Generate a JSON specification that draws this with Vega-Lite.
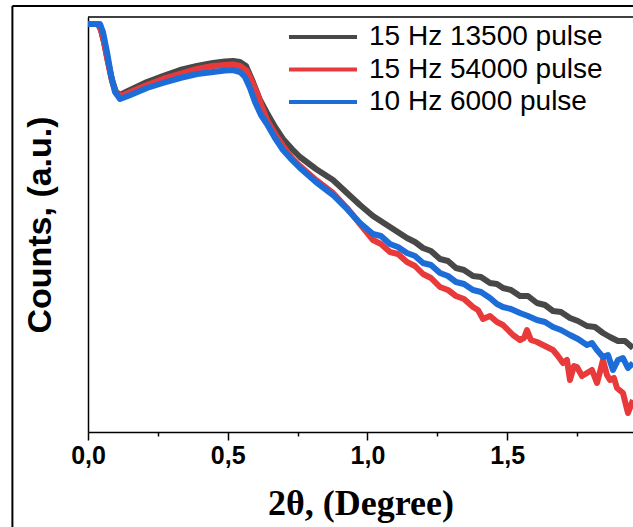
{
  "$schema": "https://vega.github.io/schema/vega-lite/v6.json",
  "width": 545,
  "height": 415,
  "autosize": {"type": "none"},
  "padding": {"left": 88, "top": 17, "right": 0, "bottom": 95},
  "background": "white",
  "config": {"view": {"stroke": null}, "font": "Liberation Sans"},
  "datasets": {
    "frame": [{"frame": "border"}],
    "curves": [
      {"series": "15 Hz 13500 pulse", "theta": 0, "counts": 408},
      {"series": "15 Hz 13500 pulse", "theta": 0.0358, "counts": 408},
      {"series": "15 Hz 13500 pulse", "theta": 0.0465, "counts": 402},
      {"series": "15 Hz 13500 pulse", "theta": 0.0572, "counts": 390},
      {"series": "15 Hz 13500 pulse", "theta": 0.0716, "counts": 370},
      {"series": "15 Hz 13500 pulse", "theta": 0.0859, "counts": 352},
      {"series": "15 Hz 13500 pulse", "theta": 0.1002, "counts": 340},
      {"series": "15 Hz 13500 pulse", "theta": 0.1145, "counts": 337},
      {"series": "15 Hz 13500 pulse", "theta": 0.1431, "counts": 341},
      {"series": "15 Hz 13500 pulse", "theta": 0.2111, "counts": 350},
      {"series": "15 Hz 13500 pulse", "theta": 0.2683, "counts": 356},
      {"series": "15 Hz 13500 pulse", "theta": 0.3292, "counts": 362},
      {"series": "15 Hz 13500 pulse", "theta": 0.39, "counts": 366},
      {"series": "15 Hz 13500 pulse", "theta": 0.4472, "counts": 369},
      {"series": "15 Hz 13500 pulse", "theta": 0.4902, "counts": 370.5},
      {"series": "15 Hz 13500 pulse", "theta": 0.5188, "counts": 371},
      {"series": "15 Hz 13500 pulse", "theta": 0.5438, "counts": 370},
      {"series": "15 Hz 13500 pulse", "theta": 0.5653, "counts": 366},
      {"series": "15 Hz 13500 pulse", "theta": 0.5903, "counts": 350},
      {"series": "15 Hz 13500 pulse", "theta": 0.6154, "counts": 332},
      {"series": "15 Hz 13500 pulse", "theta": 0.6404, "counts": 319},
      {"series": "15 Hz 13500 pulse", "theta": 0.6691, "counts": 305},
      {"series": "15 Hz 13500 pulse", "theta": 0.6977, "counts": 293},
      {"series": "15 Hz 13500 pulse", "theta": 0.7299, "counts": 283},
      {"series": "15 Hz 13500 pulse", "theta": 0.7585, "counts": 275},
      {"series": "15 Hz 13500 pulse", "theta": 0.8157, "counts": 263},
      {"series": "15 Hz 13500 pulse", "theta": 0.8766, "counts": 252},
      {"series": "15 Hz 13500 pulse", "theta": 0.9267, "counts": 239},
      {"series": "15 Hz 13500 pulse", "theta": 0.9732, "counts": 227},
      {"series": "15 Hz 13500 pulse", "theta": 1.0197, "counts": 216},
      {"series": "15 Hz 13500 pulse", "theta": 1.0805, "counts": 205},
      {"series": "15 Hz 13500 pulse", "theta": 1.1413, "counts": 194},
      {"series": "15 Hz 13500 pulse", "theta": 1.17, "counts": 190},
      {"series": "15 Hz 13500 pulse", "theta": 1.1986, "counts": 184},
      {"series": "15 Hz 13500 pulse", "theta": 1.2272, "counts": 181},
      {"series": "15 Hz 13500 pulse", "theta": 1.2594, "counts": 173},
      {"series": "15 Hz 13500 pulse", "theta": 1.288, "counts": 171},
      {"series": "15 Hz 13500 pulse", "theta": 1.3166, "counts": 164},
      {"series": "15 Hz 13500 pulse", "theta": 1.3453, "counts": 162},
      {"series": "15 Hz 13500 pulse", "theta": 1.3775, "counts": 156},
      {"series": "15 Hz 13500 pulse", "theta": 1.4061, "counts": 155},
      {"series": "15 Hz 13500 pulse", "theta": 1.4383, "counts": 149},
      {"series": "15 Hz 13500 pulse", "theta": 1.4633, "counts": 148},
      {"series": "15 Hz 13500 pulse", "theta": 1.4848, "counts": 144},
      {"series": "15 Hz 13500 pulse", "theta": 1.5134, "counts": 142},
      {"series": "15 Hz 13500 pulse", "theta": 1.5456, "counts": 136},
      {"series": "15 Hz 13500 pulse", "theta": 1.5742, "counts": 136},
      {"series": "15 Hz 13500 pulse", "theta": 1.6064, "counts": 129},
      {"series": "15 Hz 13500 pulse", "theta": 1.6351, "counts": 127},
      {"series": "15 Hz 13500 pulse", "theta": 1.6637, "counts": 121},
      {"series": "15 Hz 13500 pulse", "theta": 1.6923, "counts": 120},
      {"series": "15 Hz 13500 pulse", "theta": 1.7245, "counts": 114},
      {"series": "15 Hz 13500 pulse", "theta": 1.7531, "counts": 111},
      {"series": "15 Hz 13500 pulse", "theta": 1.7853, "counts": 106},
      {"series": "15 Hz 13500 pulse", "theta": 1.814, "counts": 105},
      {"series": "15 Hz 13500 pulse", "theta": 1.8426, "counts": 99},
      {"series": "15 Hz 13500 pulse", "theta": 1.8676, "counts": 95},
      {"series": "15 Hz 13500 pulse", "theta": 1.8962, "counts": 91},
      {"series": "15 Hz 13500 pulse", "theta": 1.9213, "counts": 91},
      {"series": "15 Hz 13500 pulse", "theta": 1.9499, "counts": 84},

      {"series": "15 Hz 54000 pulse", "theta": 0, "counts": 408},
      {"series": "15 Hz 54000 pulse", "theta": 0.0358, "counts": 408},
      {"series": "15 Hz 54000 pulse", "theta": 0.0465, "counts": 402},
      {"series": "15 Hz 54000 pulse", "theta": 0.0572, "counts": 390},
      {"series": "15 Hz 54000 pulse", "theta": 0.0716, "counts": 370},
      {"series": "15 Hz 54000 pulse", "theta": 0.0859, "counts": 351},
      {"series": "15 Hz 54000 pulse", "theta": 0.1002, "counts": 339},
      {"series": "15 Hz 54000 pulse", "theta": 0.1145, "counts": 336},
      {"series": "15 Hz 54000 pulse", "theta": 0.1431, "counts": 339},
      {"series": "15 Hz 54000 pulse", "theta": 0.2111, "counts": 347},
      {"series": "15 Hz 54000 pulse", "theta": 0.2683, "counts": 353},
      {"series": "15 Hz 54000 pulse", "theta": 0.3292, "counts": 358},
      {"series": "15 Hz 54000 pulse", "theta": 0.39, "counts": 363},
      {"series": "15 Hz 54000 pulse", "theta": 0.4472, "counts": 366},
      {"series": "15 Hz 54000 pulse", "theta": 0.4902, "counts": 367},
      {"series": "15 Hz 54000 pulse", "theta": 0.5188, "counts": 367.5},
      {"series": "15 Hz 54000 pulse", "theta": 0.5438, "counts": 366},
      {"series": "15 Hz 54000 pulse", "theta": 0.5689, "counts": 361},
      {"series": "15 Hz 54000 pulse", "theta": 0.5903, "counts": 348},
      {"series": "15 Hz 54000 pulse", "theta": 0.6047, "counts": 339},
      {"series": "15 Hz 54000 pulse", "theta": 0.6225, "counts": 325},
      {"series": "15 Hz 54000 pulse", "theta": 0.6404, "counts": 312},
      {"series": "15 Hz 54000 pulse", "theta": 0.6691, "counts": 298},
      {"series": "15 Hz 54000 pulse", "theta": 0.6977, "counts": 286},
      {"series": "15 Hz 54000 pulse", "theta": 0.7299, "counts": 274},
      {"series": "15 Hz 54000 pulse", "theta": 0.7585, "counts": 266},
      {"series": "15 Hz 54000 pulse", "theta": 0.8157, "counts": 252},
      {"series": "15 Hz 54000 pulse", "theta": 0.8766, "counts": 239},
      {"series": "15 Hz 54000 pulse", "theta": 0.9267, "counts": 224},
      {"series": "15 Hz 54000 pulse", "theta": 0.9732, "counts": 208},
      {"series": "15 Hz 54000 pulse", "theta": 1.0197, "counts": 192},
      {"series": "15 Hz 54000 pulse", "theta": 1.0483, "counts": 188},
      {"series": "15 Hz 54000 pulse", "theta": 1.0805, "counts": 180},
      {"series": "15 Hz 54000 pulse", "theta": 1.1091, "counts": 178},
      {"series": "15 Hz 54000 pulse", "theta": 1.1413, "counts": 170},
      {"series": "15 Hz 54000 pulse", "theta": 1.17, "counts": 166},
      {"series": "15 Hz 54000 pulse", "theta": 1.1986, "counts": 158},
      {"series": "15 Hz 54000 pulse", "theta": 1.2272, "counts": 154},
      {"series": "15 Hz 54000 pulse", "theta": 1.2594, "counts": 145},
      {"series": "15 Hz 54000 pulse", "theta": 1.288, "counts": 142},
      {"series": "15 Hz 54000 pulse", "theta": 1.3166, "counts": 136},
      {"series": "15 Hz 54000 pulse", "theta": 1.3453, "counts": 133},
      {"series": "15 Hz 54000 pulse", "theta": 1.3775, "counts": 125},
      {"series": "15 Hz 54000 pulse", "theta": 1.3953, "counts": 122},
      {"series": "15 Hz 54000 pulse", "theta": 1.4132, "counts": 113},
      {"series": "15 Hz 54000 pulse", "theta": 1.4383, "counts": 116},
      {"series": "15 Hz 54000 pulse", "theta": 1.4633, "counts": 110},
      {"series": "15 Hz 54000 pulse", "theta": 1.4848, "counts": 107},
      {"series": "15 Hz 54000 pulse", "theta": 1.5027, "counts": 102},
      {"series": "15 Hz 54000 pulse", "theta": 1.5206, "counts": 97},
      {"series": "15 Hz 54000 pulse", "theta": 1.5456, "counts": 92},
      {"series": "15 Hz 54000 pulse", "theta": 1.5599, "counts": 94},
      {"series": "15 Hz 54000 pulse", "theta": 1.5707, "counts": 102},
      {"series": "15 Hz 54000 pulse", "theta": 1.585, "counts": 92},
      {"series": "15 Hz 54000 pulse", "theta": 1.6064, "counts": 90},
      {"series": "15 Hz 54000 pulse", "theta": 1.6351, "counts": 86},
      {"series": "15 Hz 54000 pulse", "theta": 1.6637, "counts": 82},
      {"series": "15 Hz 54000 pulse", "theta": 1.6816, "counts": 76},
      {"series": "15 Hz 54000 pulse", "theta": 1.6995, "counts": 69},
      {"series": "15 Hz 54000 pulse", "theta": 1.7138, "counts": 72},
      {"series": "15 Hz 54000 pulse", "theta": 1.7245, "counts": 52},
      {"series": "15 Hz 54000 pulse", "theta": 1.7388, "counts": 66},
      {"series": "15 Hz 54000 pulse", "theta": 1.7496, "counts": 65},
      {"series": "15 Hz 54000 pulse", "theta": 1.7674, "counts": 56},
      {"series": "15 Hz 54000 pulse", "theta": 1.7853, "counts": 59},
      {"series": "15 Hz 54000 pulse", "theta": 1.8032, "counts": 62},
      {"series": "15 Hz 54000 pulse", "theta": 1.8211, "counts": 49},
      {"series": "15 Hz 54000 pulse", "theta": 1.8318, "counts": 60},
      {"series": "15 Hz 54000 pulse", "theta": 1.8426, "counts": 72},
      {"series": "15 Hz 54000 pulse", "theta": 1.8569, "counts": 57},
      {"series": "15 Hz 54000 pulse", "theta": 1.8676, "counts": 52},
      {"series": "15 Hz 54000 pulse", "theta": 1.8819, "counts": 54},
      {"series": "15 Hz 54000 pulse", "theta": 1.8927, "counts": 44},
      {"series": "15 Hz 54000 pulse", "theta": 1.9141, "counts": 39},
      {"series": "15 Hz 54000 pulse", "theta": 1.932, "counts": 19},
      {"series": "15 Hz 54000 pulse", "theta": 1.9499, "counts": 32},

      {"series": "10 Hz 6000 pulse", "theta": 0, "counts": 408},
      {"series": "10 Hz 6000 pulse", "theta": 0.0429, "counts": 408},
      {"series": "10 Hz 6000 pulse", "theta": 0.0537, "counts": 400},
      {"series": "10 Hz 6000 pulse", "theta": 0.068, "counts": 380},
      {"series": "10 Hz 6000 pulse", "theta": 0.0823, "counts": 357},
      {"series": "10 Hz 6000 pulse", "theta": 0.0966, "counts": 340},
      {"series": "10 Hz 6000 pulse", "theta": 0.1145, "counts": 333},
      {"series": "10 Hz 6000 pulse", "theta": 0.1431, "counts": 336},
      {"series": "10 Hz 6000 pulse", "theta": 0.2111, "counts": 344},
      {"series": "10 Hz 6000 pulse", "theta": 0.2683, "counts": 349},
      {"series": "10 Hz 6000 pulse", "theta": 0.3292, "counts": 354},
      {"series": "10 Hz 6000 pulse", "theta": 0.39, "counts": 358},
      {"series": "10 Hz 6000 pulse", "theta": 0.4472, "counts": 360},
      {"series": "10 Hz 6000 pulse", "theta": 0.4902, "counts": 361.5},
      {"series": "10 Hz 6000 pulse", "theta": 0.5188, "counts": 362},
      {"series": "10 Hz 6000 pulse", "theta": 0.5438, "counts": 360},
      {"series": "10 Hz 6000 pulse", "theta": 0.5617, "counts": 355},
      {"series": "10 Hz 6000 pulse", "theta": 0.5796, "counts": 344},
      {"series": "10 Hz 6000 pulse", "theta": 0.5975, "counts": 330},
      {"series": "10 Hz 6000 pulse", "theta": 0.619, "counts": 317},
      {"series": "10 Hz 6000 pulse", "theta": 0.6404, "counts": 308},
      {"series": "10 Hz 6000 pulse", "theta": 0.6691, "counts": 294},
      {"series": "10 Hz 6000 pulse", "theta": 0.6977, "counts": 282},
      {"series": "10 Hz 6000 pulse", "theta": 0.7299, "counts": 272},
      {"series": "10 Hz 6000 pulse", "theta": 0.7585, "counts": 264},
      {"series": "10 Hz 6000 pulse", "theta": 0.8157, "counts": 250},
      {"series": "10 Hz 6000 pulse", "theta": 0.8766, "counts": 237},
      {"series": "10 Hz 6000 pulse", "theta": 0.9267, "counts": 223},
      {"series": "10 Hz 6000 pulse", "theta": 0.9732, "counts": 209},
      {"series": "10 Hz 6000 pulse", "theta": 1.0197, "counts": 198},
      {"series": "10 Hz 6000 pulse", "theta": 1.0483, "counts": 196},
      {"series": "10 Hz 6000 pulse", "theta": 1.0805, "counts": 188},
      {"series": "10 Hz 6000 pulse", "theta": 1.1091, "counts": 185},
      {"series": "10 Hz 6000 pulse", "theta": 1.1413, "counts": 179},
      {"series": "10 Hz 6000 pulse", "theta": 1.17, "counts": 176},
      {"series": "10 Hz 6000 pulse", "theta": 1.1986, "counts": 169},
      {"series": "10 Hz 6000 pulse", "theta": 1.2272, "counts": 167},
      {"series": "10 Hz 6000 pulse", "theta": 1.2594, "counts": 159},
      {"series": "10 Hz 6000 pulse", "theta": 1.288, "counts": 156},
      {"series": "10 Hz 6000 pulse", "theta": 1.3166, "counts": 150},
      {"series": "10 Hz 6000 pulse", "theta": 1.3453, "counts": 148},
      {"series": "10 Hz 6000 pulse", "theta": 1.3775, "counts": 142},
      {"series": "10 Hz 6000 pulse", "theta": 1.4061, "counts": 140},
      {"series": "10 Hz 6000 pulse", "theta": 1.4383, "counts": 134},
      {"series": "10 Hz 6000 pulse", "theta": 1.4633, "counts": 128},
      {"series": "10 Hz 6000 pulse", "theta": 1.4848, "counts": 125},
      {"series": "10 Hz 6000 pulse", "theta": 1.5134, "counts": 123},
      {"series": "10 Hz 6000 pulse", "theta": 1.5456, "counts": 119},
      {"series": "10 Hz 6000 pulse", "theta": 1.5742, "counts": 116},
      {"series": "10 Hz 6000 pulse", "theta": 1.6064, "counts": 112},
      {"series": "10 Hz 6000 pulse", "theta": 1.6351, "counts": 110},
      {"series": "10 Hz 6000 pulse", "theta": 1.6637, "counts": 105},
      {"series": "10 Hz 6000 pulse", "theta": 1.6923, "counts": 102},
      {"series": "10 Hz 6000 pulse", "theta": 1.7245, "counts": 97},
      {"series": "10 Hz 6000 pulse", "theta": 1.7531, "counts": 93},
      {"series": "10 Hz 6000 pulse", "theta": 1.7853, "counts": 87},
      {"series": "10 Hz 6000 pulse", "theta": 1.8032, "counts": 89},
      {"series": "10 Hz 6000 pulse", "theta": 1.8211, "counts": 82},
      {"series": "10 Hz 6000 pulse", "theta": 1.8426, "counts": 75},
      {"series": "10 Hz 6000 pulse", "theta": 1.8605, "counts": 77},
      {"series": "10 Hz 6000 pulse", "theta": 1.8784, "counts": 62},
      {"series": "10 Hz 6000 pulse", "theta": 1.8962, "counts": 72},
      {"series": "10 Hz 6000 pulse", "theta": 1.9141, "counts": 74},
      {"series": "10 Hz 6000 pulse", "theta": 1.932, "counts": 64},
      {"series": "10 Hz 6000 pulse", "theta": 1.9499, "counts": 69}
    ]
  },
  "layer": [
    {
      "data": {"name": "frame"},
      "mark": {"type": "rule", "color": "black", "strokeWidth": 1.5},
      "encoding": {"x": {"datum": 0}, "x2": {"datum": 1.95}, "y": {"datum": 415}}
    },
    {
      "data": {"name": "frame"},
      "mark": {"type": "rule", "color": "black", "strokeWidth": 2},
      "encoding": {"x": {"datum": -0.2705}, "x2": {"datum": 1.95}, "y": {"datum": 426}}
    },
    {
      "data": {"name": "frame"},
      "mark": {"type": "rule", "color": "black", "strokeWidth": 2},
      "encoding": {"x": {"datum": -0.2705}, "y": {"datum": 426}, "y2": {"datum": -100}}
    },
    {
      "data": {"name": "curves"},
      "mark": {"type": "line", "strokeWidth": 6, "strokeJoin": "round", "clip": true},
      "encoding": {
        "x": {
          "field": "theta",
          "type": "quantitative",
          "scale": {"domain": [0, 1.95], "nice": false, "zero": false},
          "axis": {
            "title": "2θ, (Degree)",
            "values": [0, 0.25, 0.5, 0.75, 1, 1.25, 1.5, 1.75],
            "labelExpr": "datum.value % 0.5 ? '' : replace(format(datum.value, '.1f'), '.', ',')",
            "tickSize": {"condition": {"test": "datum.value % 0.5", "value": 4}, "value": 8},
            "tickWidth": 1.5,
            "tickColor": "black",
            "domainColor": "black",
            "domainWidth": 1.5,
            "grid": false,
            "labelFont": "Liberation Sans",
            "labelFontWeight": "bold",
            "labelFontSize": 25,
            "labelColor": "black",
            "labelPadding": 3,
            "labelFlush": false,
            "labelOverlap": false,
            "titleFont": "Liberation Serif",
            "titleFontWeight": "bold",
            "titleFontSize": 36,
            "titleColor": "black",
            "titlePadding": 18
          }
        },
        "y": {
          "field": "counts",
          "type": "quantitative",
          "scale": {"domain": [0, 415], "nice": false, "zero": false},
          "axis": {
            "title": "Counts, (a.u.)",
            "ticks": false,
            "labels": false,
            "grid": false,
            "domainColor": "black",
            "domainWidth": 1.5,
            "titleFont": "Liberation Sans",
            "titleFontWeight": "bold",
            "titleFontSize": 34,
            "titleColor": "black",
            "titlePadding": 31
          }
        },
        "color": {
          "field": "series",
          "type": "nominal",
          "sort": ["15 Hz 13500 pulse", "15 Hz 54000 pulse", "10 Hz 6000 pulse"],
          "scale": {
            "domain": ["15 Hz 13500 pulse", "15 Hz 54000 pulse", "10 Hz 6000 pulse"],
            "range": ["#484848", "#e83a3b", "#1d6dd8"]
          },
          "legend": {
            "title": null,
            "orient": "none",
            "legendX": 199,
            "legendY": 4,
            "padding": 0,
            "symbolType": "stroke",
            "symbolSize": 4624,
            "symbolStrokeWidth": 4,
            "clipHeight": 32,
            "rowPadding": 0.5,
            "labelOffset": 10,
            "labelFont": "Liberation Sans",
            "labelFontSize": 28,
            "labelColor": "black",
            "labelLimit": 400
          }
        }
      }
    }
  ]
}
